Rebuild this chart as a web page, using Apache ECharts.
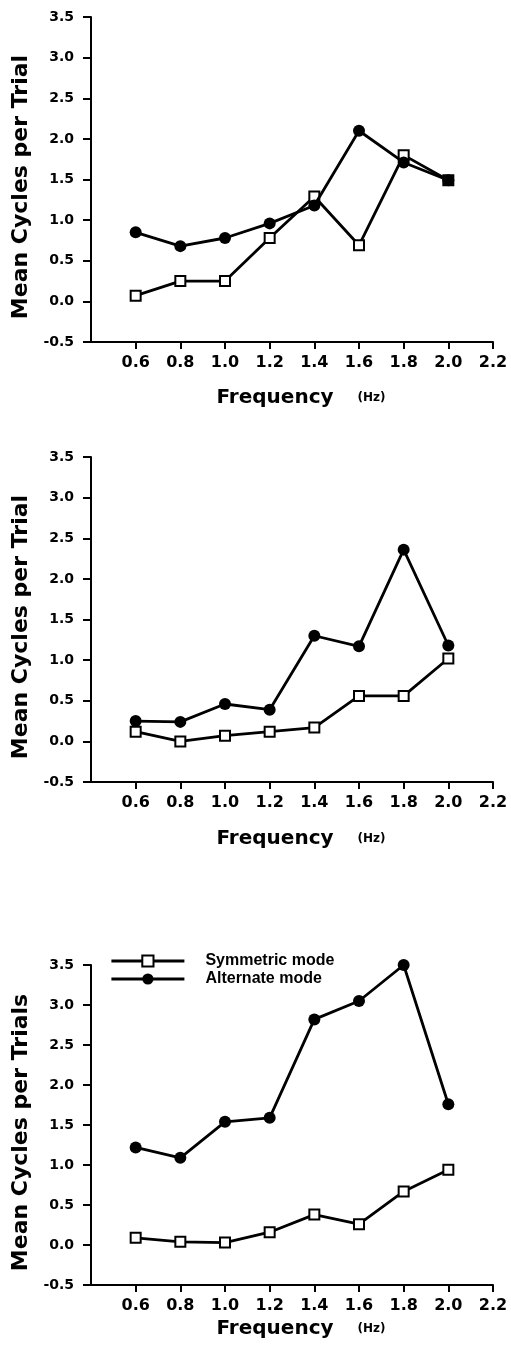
<!DOCTYPE html>
<html>
<head>
<meta charset="utf-8">
<script src="https://cdn.jsdelivr.net/npm/echarts@6/dist/echarts.min.js"></script>
<style>
html,body{margin:0;padding:0;background:#fff;}
#chart{width:511px;height:1353px;}
</style>
</head>
<body>
<div id="chart"></div>
<script>
// Data
const freq = [0.6, 0.8, 1.0, 1.2, 1.4, 1.6, 1.8, 2.0];
const p1Sym = [0.07, 0.25, 0.25, 0.78, 1.29, 0.69, 1.80, 1.49];
const p1Alt = [0.85, 0.68, 0.78, 0.96, 1.18, 2.10, 1.71, 1.49];
const p2Sym = [0.12, 0.00, 0.07, 0.12, 0.17, 0.56, 0.56, 1.02];
const p2Alt = [0.25, 0.24, 0.46, 0.39, 1.30, 1.17, 2.36, 1.18];
const p3Sym = [0.09, 0.04, 0.03, 0.16, 0.38, 0.26, 0.67, 0.94];
const p3Alt = [1.22, 1.09, 1.54, 1.59, 2.82, 3.05, 3.50, 1.76];
const yNames = ['Mean Cycles per Trial', 'Mean Cycles per Trial', 'Mean Cycles per Trials'];
const xName = 'Frequency';
const xUnit = '(Hz)';
const seriesNames = ['Symmetric mode', 'Alternate mode'];

const FONT = 'DejaVu Sans';
const panels = [
  { sym: p1Sym, alt: p1Alt, top: 17, height: 325, xGap: 46 },
  { sym: p2Sym, alt: p2Alt, top: 457, height: 325, xGap: 47 },
  { sym: p3Sym, alt: p3Alt, top: 965, height: 320, xGap: 34 }
];

const grids = [], xAxes = [], yAxes = [], series = [];
panels.forEach((p, i) => {
  grids.push({ left: 91, width: 402, top: p.top, height: p.height });
  xAxes.push({
    gridIndex: i, type: 'value', min: 0.4, max: 2.2, interval: 0.2,
    splitLine: { show: false },
    axisLine: { onZero: false, lineStyle: { color: '#000', width: 2 } },
    axisTick: { length: 7, lineStyle: { color: '#000', width: 2 } },
    axisLabel: {
      showMinLabel: false, margin: 13, color: '#000',
      fontFamily: FONT, fontWeight: 'bold', fontSize: 16,
      formatter: v => v.toFixed(1)
    },
    name: '{a|' + xName + '}{b|' + xUnit + '}',
    nameLocation: 'middle', nameGap: p.xGap,
    nameTextStyle: {
      padding: [0, 0, 0, 18],
      rich: {
        a: { fontFamily: FONT, fontWeight: 'bold', fontSize: 20, color: '#000' },
        b: { fontFamily: FONT, fontWeight: 'bold', fontSize: 12, color: '#000', padding: [0, 0, 0, 24] }
      }
    }
  });
  yAxes.push({
    gridIndex: i, type: 'value', min: -0.5, max: 3.5, interval: 0.5,
    splitLine: { show: false },
    axisLine: { lineStyle: { color: '#000', width: 2 } },
    axisTick: { length: 8, lineStyle: { color: '#000', width: 2 } },
    axisLabel: {
      margin: 17, color: '#000',
      fontFamily: FONT, fontWeight: 'bold', fontSize: 14,
      formatter: v => v.toFixed(1)
    },
    name: yNames[i], nameLocation: 'middle', nameGap: 57,
    nameTextStyle: {
      fontFamily: FONT, fontWeight: 'bold', fontSize: 22, color: '#000',
      padding: [0, 15, 0, 0]
    }
  });
  series.push({
    name: seriesNames[0], type: 'line', xAxisIndex: i, yAxisIndex: i,
    data: freq.map((f, k) => [f, p.sym[k]]),
    symbol: 'rect', symbolSize: 10, z: 2,
    lineStyle: { color: '#000', width: 2.8 },
    itemStyle: { color: '#fff', borderColor: '#000', borderWidth: 2 },
    animation: false
  });
  series.push({
    name: seriesNames[1], type: 'line', xAxisIndex: i, yAxisIndex: i,
    data: freq.map((f, k) => [f, p.alt[k]]),
    symbol: 'circle', symbolSize: 12, z: 3,
    lineStyle: { color: '#000', width: 2.8 },
    itemStyle: { color: '#000' },
    animation: false
  });
});

const chart = echarts.init(document.getElementById('chart'), null, { renderer: 'canvas' });
chart.setOption({
  backgroundColor: '#fff',
  animation: false,
  grid: grids, xAxis: xAxes, yAxis: yAxes, series: series,
  legend: {
    data: seriesNames, orient: 'vertical', left: 105, top: 947,
    itemWidth: 73, itemHeight: 14, itemGap: 0,
    selectedMode: false,
    lineStyle: { width: 2.8 },
    textStyle: {
      fontFamily: 'Liberation Sans', fontWeight: 'bold', fontSize: 16, color: '#000',
      lineHeight: 18, padding: [0, 0, 0, 16]
    }
  }
});
</script>
</body>
</html>
